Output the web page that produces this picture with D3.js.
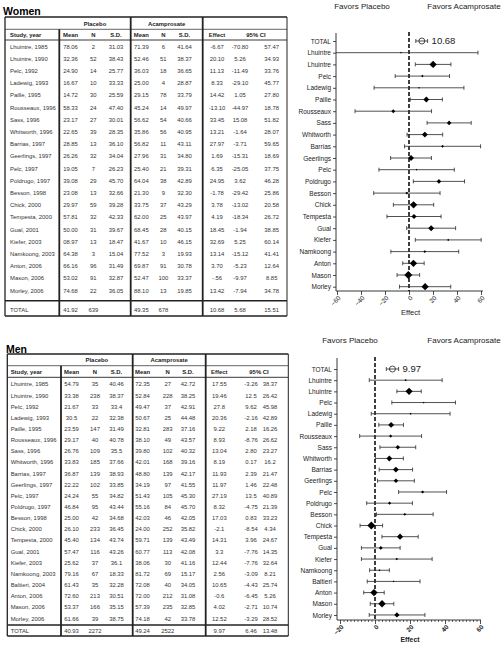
<!DOCTYPE html>
<html><head><meta charset="utf-8">
<script src="https://cdn.jsdelivr.net/npm/d3@7/dist/d3.min.js"></script>
<style>body{margin:0;background:#fff}svg{display:block}text{font-family:"Liberation Sans",Arial,sans-serif}</style>
</head><body>
<svg id="c" width="503" height="645"></svg>
<script>
// ---------------- DATA ----------------
const tableHeaderGroups = ["Placebo", "Acamprosate"];
const tableHeaderCols = ["Study, year", "Mean", "N", "S.D.", "Mean", "N", "S.D.", "Effect", "95% CI"];
const favorsLabels = ["Favors Placebo", "Favors Acamprosate"];

// Women
const womenStudies = ["Lhuintre, 1985","Lhuintre, 1990","Pelc, 1992","Ladewig, 1993","Paille, 1995","Rousseaux, 1996","Sass, 1996","Whitworth, 1996","Barrias, 1997","Geerlings, 1997","Pelc, 1997","Poldrugo, 1997","Besson, 1998","Chick, 2000","Tempesta, 2000","Gual, 2001","Kiefer, 2003","Namkoong, 2003","Anton, 2006","Mason, 2006","Morley, 2006"];
const womenPlaceboMean = ["78.06","32.36","24.90","16.67","14.72","58.33","23.17","22.65","28.85","26.26","19.05","39.08","23.08","29.97","57.81","50.00","08.97","64.38","66.16","53.02","74.68"];
const womenPlaceboN = [2,52,14,10,30,24,27,39,13,32,7,29,13,59,32,31,13,3,96,91,22];
const womenPlaceboSD = ["31.03","38.43","25.77","33.33","25.59","47.40","30.01","28.35","36.10","34.04","26.23","45.70","32.66","39.28","42.33","39.67","18.47","15.04","31.49","32.87","36.05"];
const womenAcampMean = ["71.39","52.46","36.03","25.00","29.15","45.24","56.62","35.86","56.82","27.96","25.40","64.04","21.30","33.75","62.00","68.45","41.67","77.52","69.87","52.47","88.10"];
const womenAcampN = [6,51,18,4,78,14,54,56,11,31,21,38,9,37,25,28,10,3,91,100,13];
const womenAcampSD = ["41.64","38.37","36.65","28.87","33.79","49.97","40.66","40.95","43.11","34.80","39.31","42.89","32.30","43.29","43.97","40.15","46.15","19.93","30.78","33.37","19.85"];
const womenEffect = ["-6.67","20.10","11.13","8.33","14.42","-13.10","33.45","13.21","27.97","1.69","6.35","24.95","-1.78","3.78","4.19","18.45","32.69","13.14","3.70","-.56","13.42"];
const womenLow = ["-70.80","5.26","-11.49","-29.10","1.05","-44.97","15.08","-1.64","-3.71","-15.31","-25.05","3.62","-29.42","-13.02","-18.34","-1.94","5.25","-15.12","-5.23","-9.97","-7.94"];
const womenHigh = ["57.47","34.93","33.76","45.77","27.80","18.78","51.82","28.07","59.65","18.69","37.75","46.28","25.86","20.58","26.72","38.85","60.14","41.41","12.64","8.85","34.78"];
const womenWeight = [1,9,2,1,7,4,5,7,2.5,7,1,5,2.5,9,6,7,1.5,2.5,9,10,9];
const womenTotal = ["TOTAL","41.92","639","","49.35","678","","10.68","5.68","15.51"];
const womenXTicks = [-60,-40,-20,0,20,40,60];

// Men
const menStudies = ["Lhuintre, 1985","Lhuintre, 1990","Pelc, 1992","Ladewig, 1993","Paille, 1995","Rousseaux, 1996","Sass, 1996","Whitworth, 1996","Barrias, 1997","Geerlings, 1997","Pelc, 1997","Poldrugo, 1997","Besson, 1998","Chick, 2000","Tempesta, 2000","Gual, 2001","Kiefer, 2003","Namkoong, 2003","Baltieri, 2004","Anton, 2006","Mason, 2006","Morley, 2006"];
const menPlaceboMean = ["54.79","33.38","21.67","30.5","23.59","29.17","26.76","33.83","36.87","22.22","24.24","46.84","25.00","26.10","45.40","57.47","25.62","79.16","61.43","72.60","53.37","61.66"];
const menPlaceboN = [35,238,33,22,147,40,109,185,139,102,55,95,42,233,134,116,37,67,35,213,166,39];
const menPlaceboSD = ["40.46","38.37","33.4","32.38","31.49","40.78","35.5","37.66","38.93","33.85","34.82","43.44","34.68","36.45","43.74","43.26","36.1","18.33","32.28","30.51","35.15","38.75"];
const menAcampMean = ["72.35","52.84","49.47","50.67","32.81","38.10","39.80","42.01","48.80","34.19","51.43","55.16","42.03","24.00","59.71","60.77","38.06","81.72","72.08","72.00","57.39","74.18"];
const menAcampN = [27,228,37,25,283,49,102,168,139,97,105,84,46,252,139,113,30,69,40,212,235,42];
const menAcampSD = ["42.72","38.25","42.91","44.48","37.16","43.57","40.32","39.16","42.17","41.55","45.30","45.70","42.05","35.82","43.49","42.08","41.16","15.17","34.05","31.08","32.85","33.78"];
const menEffect = ["17.55","19.46","27.8","20.36","9.22","8.93","13.04","8.19","11.93","11.97","27.19","8.32","17.03","-2.1","14.31","3.3","12.44","2.56","10.65","-0.6","4.02","12.52"];
const menLow = ["-3.26","12.5","9.62","-2.16","2.18","-8.76","2.80","0.17","2.39","1.46","13.5","-4.75","0.83","-8.54","3.96","-7.76","-7.76","-3.09","-4.43","-6.45","-2.71","-3.29"];
const menHigh = ["38.37","26.42","45.98","42.89","16.26","26.62","23.27","16.2","21.47","22.48","40.89","21.39","33.23","4.34","24.67","14.35","32.64","8.21","25.74","5.26","10.74","28.52"];
const menWeight = [1.5,9,1,1.5,7,3,5,7,7,5,3,3,2.5,10,7.5,4,2,1.5,1,9,9,6];
const menTotal = ["TOTAL","40.93","2272","","49.24","2522","","9.97","6.46","13.48"];
const menXTicks = [-20,0,20,40,60];

// ---------------- LAYOUT ----------------
const panels = [
  { title:"Women", titleX:3, titleY:15,
    studies:womenStudies, cols:[womenPlaceboMean,womenPlaceboN,womenPlaceboSD,womenAcampMean,womenAcampN,womenAcampSD,womenEffect,womenLow,womenHigh],
    weight:womenWeight, total:womenTotal,
    t:{top:17,h1:23.5,line1:29.3,h2:35,line2:40,row0:46.5,step:12.2,totalLine:300.7,totalY:309.5,bottom:316,
       left:5,right:287,vlines:[59.3,130.7,202.7],studyX:10,cx:[70.5,93.3,116,141.3,163.3,184.5,217,240,271.7],ciHeader:256},
    f:{axisX:336,axisRight:483,yTop:33,axisY:291,row0:41,step:11.7,domain:[-60,60],range:[337,481],
       ticks:womenXTicks,minor:null,favorsY:9,favorsX:[362,464],effectY:315,effectBold:false,effectSize:7.5}
  },
  { title:"Men", titleX:6, titleY:352.5,
    studies:menStudies, cols:[menPlaceboMean,menPlaceboN,menPlaceboSD,menAcampMean,menAcampN,menAcampSD,menEffect,menLow,menHigh],
    weight:menWeight, total:menTotal,
    t:{top:354,h1:359.5,line1:365.7,h2:371.8,line2:377.3,row0:384.3,step:11.15,totalLine:625,totalY:630.5,bottom:636,
       left:7.3,right:288.3,vlines:[61,132.7,205.7],studyX:10.7,cx:[71.5,95,116.5,142.5,167.7,188,219.3,251,270],ciHeader:259},
    f:{axisX:337,axisRight:481,yTop:358,axisY:620,row0:369,step:11.18,domain:[-20,60],range:[340,480],
       ticks:menXTicks,minor:2,favorsY:343,favorsX:[350,464],effectY:641.5,effectBold:true,effectSize:6.8}
  }
];

const svg = d3.select("#c");
const ink = "#222";

function drawPanel(P) {
  const g = svg.append("g");
  const T = P.t, F = P.f;
  g.append("text").attr("x",P.titleX).attr("y",P.titleY).text(P.title)
    .attr("font-size",10.5).attr("font-weight","bold").attr("fill","#000");

  // ---- table ----
  const n = P.studies.length;
  const rowY = d3.scaleLinear().domain([0,n-1]).range([T.row0, T.row0+(n-1)*T.step]);
  const hline = (y,w)=>g.append("line").attr("x1",T.left).attr("x2",T.right).attr("y1",y).attr("y2",y).attr("stroke",ink).attr("stroke-width",w);
  hline(T.top,1.6); hline(T.line1,0.7); hline(T.line2,0.9); hline(T.totalLine,1.4); hline(T.bottom,1.6);
  const vline = (x,y1,w)=>g.append("line").attr("x1",x).attr("x2",x).attr("y1",y1).attr("y2",T.bottom).attr("stroke",ink).attr("stroke-width",w);
  vline(T.left,T.top,1.3); vline(T.right,T.top,1);
  vline(T.vlines[0],T.line1,1.8); vline(T.vlines[1],T.top,1.8); vline(T.vlines[2],T.top,1.8);

  const hdr = g.append("g").attr("font-size",5.9).attr("font-weight","bold").attr("fill",ink);
  hdr.append("text").attr("x",(T.vlines[0]+T.vlines[1])/2).attr("y",T.h1).attr("dy","0.35em").attr("text-anchor","middle").text(tableHeaderGroups[0]);
  hdr.append("text").attr("x",(T.vlines[1]+T.vlines[2])/2).attr("y",T.h1).attr("dy","0.35em").attr("text-anchor","middle").text(tableHeaderGroups[1]);
  hdr.append("text").attr("x",T.studyX).attr("y",T.h2).attr("dy","0.35em").text(tableHeaderCols[0]);
  for (let c=1;c<=7;c++) hdr.append("text").attr("x",T.cx[c-1]).attr("y",T.h2).attr("dy","0.35em").attr("text-anchor","middle").text(tableHeaderCols[c]);
  hdr.append("text").attr("x",T.ciHeader).attr("y",T.h2).attr("dy","0.35em").attr("text-anchor","middle").text(tableHeaderCols[8]);

  const body = g.append("g").attr("font-size",5.9).attr("fill","#333");
  P.studies.forEach((s,i)=>{
    const y = rowY(i);
    body.append("text").attr("x",T.studyX).attr("y",y).attr("dy","0.35em").text(s);
    P.cols.forEach((col,c)=>{
      body.append("text").attr("x",T.cx[c]).attr("y",y).attr("dy","0.35em").attr("text-anchor","middle").text(col[i]);
    });
  });
  body.append("text").attr("x",T.studyX).attr("y",T.totalY).attr("dy","0.35em").text(P.total[0]);
  P.total.slice(1).forEach((v,c)=>{
    body.append("text").attr("x",T.cx[c]).attr("y",T.totalY).attr("dy","0.35em").attr("text-anchor","middle").text(v);
  });

  // ---- forest plot ----
  const labels = ["TOTAL"].concat(P.studies.map(s=>s.split(",")[0]));
  const y = d3.scaleLinear().domain([0,n]).range([F.row0, F.row0+n*F.step]);
  const x = d3.scaleLinear().domain(F.domain).range(F.range);
  const clampX = v=>Math.max(F.axisX, Math.min(F.axisRight, x(v)));

  const fg = g.append("g");
  fg.append("text").attr("x",F.favorsX[0]).attr("y",F.favorsY).attr("text-anchor","middle").attr("font-size",8).attr("fill",ink).text(favorsLabels[0]);
  fg.append("text").attr("x",F.favorsX[1]).attr("y",F.favorsY).attr("text-anchor","middle").attr("font-size",8).attr("fill",ink).text(favorsLabels[1]);

  const yAx = fg.append("g").attr("transform",`translate(${F.axisX},0)`)
    .call(d3.axisLeft(y).tickValues(d3.range(n+1)).tickFormat(i=>labels[i]).tickSize(3).tickPadding(2));
  yAx.select(".domain").remove();
  yAx.selectAll("line").attr("stroke",ink).attr("stroke-width",0.8);
  yAx.selectAll("text").attr("font-size",6.5).attr("fill",ink).attr("font-family",'"Liberation Sans",Arial,sans-serif');
  fg.append("line").attr("x1",F.axisX).attr("x2",F.axisX).attr("y1",F.yTop).attr("y2",F.axisY).attr("stroke",ink).attr("stroke-width",0.9);

  if (F.minor) {
    const minorTicks = d3.range(F.domain[0], F.domain[1]+0.001, F.minor).filter(v=>!F.ticks.includes(v));
    const mAx = fg.append("g").attr("transform",`translate(0,${F.axisY})`)
      .call(d3.axisBottom(x).tickValues(minorTicks).tickSize(2).tickFormat(""));
    mAx.select(".domain").remove();
    mAx.selectAll("line").attr("stroke",ink).attr("stroke-width",0.7);
  }
  const xAx = fg.append("g").attr("transform",`translate(0,${F.axisY})`)
    .call(d3.axisBottom(x).tickValues(F.ticks).tickSize(4).tickFormat(d3.format("d")));
  xAx.select(".domain").remove();
  xAx.selectAll("line").attr("stroke",ink).attr("stroke-width",0.8);
  xAx.selectAll("text").attr("x",0).attr("y",0).attr("dy","0.35em")
    .attr("transform","translate(2,6) rotate(-45)").attr("text-anchor","end")
    .attr("font-size",6.4).attr("fill",ink).attr("font-weight",F.effectBold?"bold":"normal")
    .attr("font-family",'"Liberation Sans",Arial,sans-serif');
  fg.append("line").attr("x1",F.axisX).attr("x2",F.axisRight).attr("y1",F.axisY).attr("y2",F.axisY).attr("stroke",ink).attr("stroke-width",0.9);
  fg.append("text").attr("x",(F.axisX+F.axisRight)/2+1).attr("y",F.effectY).attr("text-anchor","middle")
    .attr("font-size",F.effectSize).attr("font-weight",F.effectBold?"bold":"normal").attr("fill",ink).text("Effect");

  // zero reference line
  fg.append("line").attr("x1",x(0)).attr("x2",x(0)).attr("y1",F.yTop-1).attr("y2",F.axisY)
    .attr("stroke","#000").attr("stroke-width",1.5).attr("stroke-dasharray","4,2");

  const size = d3.scaleLinear().domain([1,10]).range([0.9,4]);
  const capH = 2;
  function ci(lo, hi, yy, gg) {
    const x1 = clampX(lo), x2 = clampX(hi);
    gg.append("line").attr("x1",x1).attr("x2",x2).attr("y1",yy).attr("y2",yy).attr("stroke","#333").attr("stroke-width",0.85);
    if (x(lo) >= F.axisX) gg.append("line").attr("x1",x1).attr("x2",x1).attr("y1",yy-capH).attr("y2",yy+capH).attr("stroke","#333").attr("stroke-width",0.85);
    if (x(hi) <= F.axisRight) gg.append("line").attr("x1",x2).attr("x2",x2).attr("y1",yy-capH).attr("y2",yy+capH).attr("stroke","#333").attr("stroke-width",0.85);
  }
  const marks = fg.append("g");
  P.studies.forEach((s,i)=>{
    const yy = y(i+1);
    const e = parseFloat(P.cols[6][i]), lo = parseFloat(P.cols[7][i]), hi = parseFloat(P.cols[8][i]);
    ci(lo, hi, yy, marks);
    const h = size(P.weight[i]);
    marks.append("path").attr("d", d3.symbol(d3.symbolSquare, 2*h*h)())
      .attr("transform",`translate(${x(e)},${yy}) rotate(45)`).attr("fill","#000");
  });
  // total
  const te = parseFloat(P.total[7]), tlo = parseFloat(P.total[8]), thi = parseFloat(P.total[9]);
  const ty = y(0);
  ci(tlo, thi, ty, marks);
  marks.append("circle").attr("cx",x(te)).attr("cy",ty).attr("r",3).attr("fill","#fff").attr("stroke","#222").attr("stroke-width",0.8);
  marks.append("line").attr("x1",x(te)-3).attr("x2",x(te)+3).attr("y1",ty).attr("y2",ty).attr("stroke","#222").attr("stroke-width",0.8);
  marks.append("text").attr("x",x(thi)+4).attr("y",ty+3.3).attr("font-size",9.5).attr("fill",ink).text(P.total[7]);
}

panels.forEach(drawPanel);
</script>
</body></html>
